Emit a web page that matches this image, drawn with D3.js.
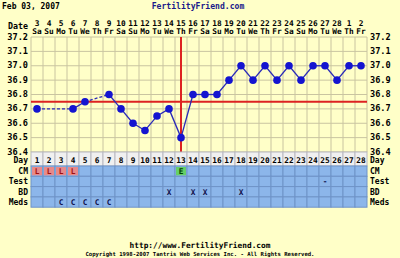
<!DOCTYPE html>
<html>
<head>
<meta charset="utf-8">
<script src="https://cdn.jsdelivr.net/npm/d3@7"></script>
<style>
  html, body { margin: 0; padding: 0; background: #ffffc8; }
  text { font-family: "DejaVu Sans Mono", monospace; font-weight: bold; }
</style>
</head>
<body>
<div id="chart"></div>
<script>
// chart data
let cycleDays = d3.range(1, 29);
let dateNums = ["3","4","5","6","7","8","9","10","11","12","13","14","15","16","17","18","19","20","21","22","23","24","25","26","27","28","1","2"];
let weekDays = ["Sa","Su","Mo","Tu","We","Th","Fr","Sa","Su","Mo","Tu","We","Th","Fr","Sa","Su","Mo","Tu","We","Th","Fr","Sa","Su","Mo","Tu","We","Th","Fr"];
let temps = [36.7, null, null, 36.7, 36.75, null, 36.8, 36.7, 36.6, 36.55, 36.65, 36.7, 36.5, 36.8,
             36.8, 36.8, 36.9, 37.0, 36.9, 37.0, 36.9, 37.0, 36.9, 37.0, 37.0, 36.9, 37.0, 37.0];
let tempTicks = [36.4, 36.5, 36.6, 36.7, 36.8, 36.9, 37.0, 37.1, 37.2];
let coverline = 36.75;
let ovulationDay = 13;
let rowNames = ["CM", "Test", "BD", "Meds"];
let cmMarks = [{day: 1, v: "L"}, {day: 2, v: "L"}, {day: 3, v: "L"}, {day: 4, v: "L"}, {day: 13, v: "E"}];
let testMarks = [{day: 25, v: "-"}];
let bdMarks = [{day: 12, v: "X"}, {day: 14, v: "X"}, {day: 15, v: "X"}, {day: 18, v: "X"}];
let medMarks = [{day: 3, v: "C"}, {day: 4, v: "C"}, {day: 5, v: "C"}, {day: 6, v: "C"}, {day: 7, v: "C"}];

let width = 400, height = 258;
let plotLeft = 31, plotRight = 367, plotTop = 37, plotBottom = 152;

let svg = d3.select("#chart").append("svg")
    .attr("width", width)
    .attr("height", height);

svg.append("rect").attr("width", width).attr("height", height).attr("fill", "#ffffc8");

let xScale = d3.scaleBand().domain(cycleDays).range([plotLeft, plotRight]);
let yScale = d3.scaleLinear().domain([36.4, 37.2]).range([plotBottom, plotTop]);
let cx = d => xScale(d) + xScale.bandwidth() / 2;

// header
svg.append("text").attr("x", 2).attr("y", 9).attr("font-size", 8).attr("fill", "#000")
    .text("Feb 03, 2007");
svg.append("text").attr("x", 198).attr("y", 9).attr("text-anchor", "middle")
    .attr("font-size", 8.1).attr("fill", "#1a1a8a").text("FertilityFriend.com");
svg.append("text").attr("x", 28).attr("y", 29).attr("text-anchor", "end")
    .attr("font-size", 8.3).attr("fill", "#000").text("Date");
svg.selectAll(".dnum").data(cycleDays).enter().append("text")
    .attr("x", d => cx(d)).attr("y", 25.5).attr("text-anchor", "middle")
    .attr("font-size", 7.8).attr("fill", "#000")
    .text((d, i) => dateNums[i]);
svg.selectAll(".wday").data(cycleDays).enter().append("text")
    .attr("x", d => cx(d)).attr("y", 34).attr("text-anchor", "middle")
    .attr("font-size", 7.8).attr("fill", "#000")
    .text((d, i) => weekDays[i]);

// grid
let grid = svg.append("g");
grid.selectAll(".hl").data(tempTicks).enter().append("line")
    .attr("x1", plotLeft).attr("x2", plotRight)
    .attr("y1", d => yScale(d)).attr("y2", d => yScale(d))
    .attr("stroke", "#c9c4a0").attr("stroke-width", 1);
grid.selectAll(".vl").data(cycleDays.concat([29])).enter().append("line")
    .attr("x1", d => d === 29 ? plotRight : xScale(d)).attr("x2", d => d === 29 ? plotRight : xScale(d))
    .attr("y1", plotTop).attr("y2", plotBottom)
    .attr("stroke", "#c9c4a0").attr("stroke-width", 1);

// temp labels
svg.selectAll(".tl").data(tempTicks).enter().append("text")
    .attr("x", 28).attr("y", d => yScale(d) + 2.5).attr("text-anchor", "end")
    .attr("font-size", 8.6).attr("fill", "#000")
    .text(d => d.toFixed(1));
svg.selectAll(".tr").data(tempTicks).enter().append("text")
    .attr("x", 370).attr("y", d => yScale(d) + 2.5)
    .attr("font-size", 8.6).attr("fill", "#000")
    .text(d => d.toFixed(1));

// coverline and ovulation line
svg.append("line").attr("x1", plotLeft).attr("x2", plotRight)
    .attr("y1", yScale(coverline)).attr("y2", yScale(coverline))
    .attr("stroke", "#dd2222").attr("stroke-width", 2);
svg.append("line").attr("x1", cx(ovulationDay)).attr("x2", cx(ovulationDay))
    .attr("y1", plotTop).attr("y2", plotBottom)
    .attr("stroke", "#dd2222").attr("stroke-width", 2);

// temperature line
let pts = [];
temps.forEach((t, i) => { if (t !== null) pts.push({day: cycleDays[i], t: t}); });
for (let i = 0; i < pts.length - 1; i++) {
    let a = pts[i], b = pts[i + 1];
    svg.append("line")
        .attr("x1", cx(a.day)).attr("y1", yScale(a.t))
        .attr("x2", cx(b.day)).attr("y2", yScale(b.t))
        .attr("stroke", "#2a2ab8").attr("stroke-width", 1.3)
        .attr("stroke-dasharray", b.day - a.day > 1 ? "3,2" : null);
}
svg.selectAll(".pt").data(pts).enter().append("circle")
    .attr("cx", d => cx(d.day)).attr("cy", d => yScale(d.t)).attr("r", 3.8)
    .attr("fill", "#1414d0");

// table
let dayTop = 152, dayH = 14, rowH = 10.3;
let rowY = d3.scaleBand().domain(rowNames).range([dayTop + dayH, dayTop + dayH + rowH * 4]);

svg.selectAll(".dcell").data(cycleDays).enter().append("rect")
    .attr("x", d => xScale(d)).attr("y", dayTop)
    .attr("width", xScale.bandwidth()).attr("height", dayH)
    .attr("fill", "#f0f0f0").attr("stroke", "#b8b8c0").attr("stroke-width", 1);
svg.selectAll(".dtxt").data(cycleDays).enter().append("text")
    .attr("x", d => cx(d)).attr("y", dayTop + 11).attr("text-anchor", "middle")
    .attr("font-size", 7.8).attr("fill", "#000").text(d => d);

rowNames.forEach(r => {
    svg.selectAll(".c" + r).data(cycleDays).enter().append("rect")
        .attr("x", d => xScale(d)).attr("y", rowY(r))
        .attr("width", xScale.bandwidth()).attr("height", rowY.bandwidth())
        .attr("fill", "#8cb6ea").attr("stroke", "#6f93c8").attr("stroke-width", 1);
});

let marks = [cmMarks, testMarks, bdMarks, medMarks];
marks.forEach((m, k) => {
    let r = rowNames[k];
    let g = svg.append("g");
    if (r === "CM") {
        g.selectAll("rect").data(m).enter().append("rect")
            .attr("x", d => xScale(d.day) + 1).attr("y", rowY(r) + 1)
            .attr("width", xScale.bandwidth() - 2).attr("height", rowY.bandwidth() - 2)
            .attr("fill", d => d.v === "E" ? "#66d066" : "#e88a8a");
    }
    g.selectAll("text").data(m).enter().append("text")
        .attr("x", d => cx(d.day)).attr("y", rowY(r) + 8)
        .attr("text-anchor", "middle").attr("font-size", 7.8)
        .attr("fill", d => d.v === "L" ? "#a01010" : (d.v === "E" ? "#004000" : "#10104a"))
        .text(d => d.v);
});

// row labels
let labels = [{n: "Day", y: dayTop + 11}].concat(rowNames.map(r => ({n: r, y: rowY(r) + 8})));
svg.selectAll(".rl").data(labels).enter().append("text")
    .attr("x", 28).attr("y", d => d.y).attr("text-anchor", "end")
    .attr("font-size", 8).attr("fill", "#000").text(d => d.n);
svg.selectAll(".rr").data(labels).enter().append("text")
    .attr("x", 370).attr("y", d => d.y)
    .attr("font-size", 8).attr("fill", "#000").text(d => d.n);

// footer
svg.append("text").attr("x", 200).attr("y", 247.5).attr("text-anchor", "middle")
    .attr("font-size", 7.8).attr("fill", "#000").text("http://www.FertilityFriend.com");
svg.append("text").attr("x", 200).attr("y", 256).attr("text-anchor", "middle")
    .attr("font-size", 5.6).attr("font-weight", "normal").attr("fill", "#000")
    .text("Copyright 1998-2007 Tantris Web Services Inc. - All Rights Reserved.");
</script>
</body>
</html>
